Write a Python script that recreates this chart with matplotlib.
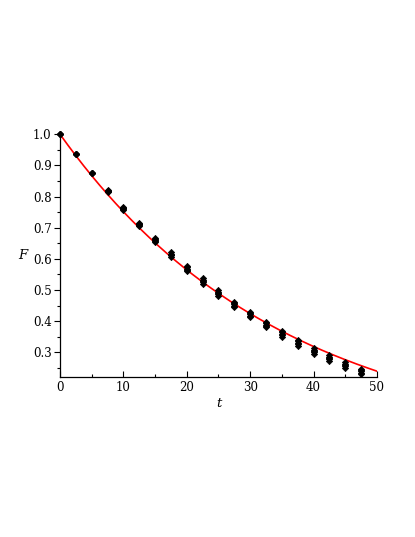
#!/usr/bin/env python3
"""Decay of F over t: measured replicates against the fitted exponential."""

import numpy as np
import matplotlib

matplotlib.use("Agg")
import matplotlib.pyplot as plt
from matplotlib.ticker import FormatStrFormatter, MultipleLocator

# sample times and the replicate readings at each time
t_data = [0, 2.5, 5, 7.5, 10, 12.5, 15, 17.5, 20, 22.5,
          25, 27.5, 30, 32.5, 35, 37.5, 40, 42.5, 45, 47.5]
F_high = [1.000, 0.938, 0.877, 0.820, 0.766, 0.716, 0.666, 0.621, 0.578, 0.538,
          0.500, 0.463, 0.431, 0.398, 0.369, 0.340, 0.313, 0.291, 0.268, 0.248]
F_upper = [1.000, 0.937, 0.877, 0.819, 0.764, 0.713, 0.663, 0.617, 0.573, 0.533,
           0.495, 0.458, 0.426, 0.393, 0.364, 0.335, 0.308, 0.286, 0.263, 0.243]
F_mid = [1.000, 0.937, 0.876, 0.818, 0.762, 0.711, 0.660, 0.614, 0.569, 0.529,
         0.491, 0.454, 0.422, 0.389, 0.360, 0.331, 0.304, 0.282, 0.259, 0.239]
F_lower = [1.000, 0.937, 0.875, 0.817, 0.760, 0.709, 0.657, 0.611, 0.565, 0.525,
           0.487, 0.450, 0.418, 0.385, 0.356, 0.327, 0.300, 0.278, 0.255, 0.235]
F_low = [1.000, 0.936, 0.875, 0.816, 0.758, 0.706, 0.654, 0.607, 0.560, 0.520,
         0.482, 0.445, 0.413, 0.380, 0.351, 0.322, 0.295, 0.273, 0.250, 0.230]

# fitted decay constant (F = exp(-t / tau))
tau = 35.0

plt.rcParams["font.family"] = ["DejaVu Serif"]
plt.rcParams["font.size"] = 8.5

fig = plt.figure(figsize=(4.15, 5.37), dpi=100)
ax = fig.add_axes([0.1446, 0.2985, 0.7638, 0.4515])

t_fit = np.linspace(0, 50, 400)
ax.plot(t_fit, np.exp(-t_fit / tau), color="#ff0000", linewidth=1.2, zorder=2)

for series in (F_low, F_lower, F_mid, F_upper, F_high):
    ax.plot(t_data, series, linestyle="none", marker="D", markersize=3.2,
            markeredgewidth=0.5, color="black", clip_on=False, zorder=3)

ax.set_xlim(0, 50)
ax.set_ylim(0.222, 1.0)

ax.xaxis.set_major_locator(MultipleLocator(10))
ax.xaxis.set_minor_locator(MultipleLocator(5))
ax.yaxis.set_major_locator(MultipleLocator(0.1))
ax.yaxis.set_minor_locator(MultipleLocator(0.05))
ax.yaxis.set_major_formatter(FormatStrFormatter("%.1f"))

ax.tick_params(axis="x", which="major", direction="in", length=4, width=0.8, pad=3)
ax.tick_params(axis="x", which="minor", direction="in", length=2.5, width=0.8)
ax.tick_params(axis="y", which="major", direction="out", length=4, width=0.8, pad=2)
ax.tick_params(axis="y", which="minor", direction="out", length=2.5, width=0.8)

for side in ("top", "right"):
    ax.spines[side].set_visible(False)
for side in ("left", "bottom"):
    ax.spines[side].set_linewidth(0.9)

ax.set_xlabel("t", style="italic", fontsize=9.5, labelpad=2)
ax.set_ylabel("F", style="italic", fontsize=9.5, rotation=0, labelpad=7, va="center")

fig.savefig("out.png", dpi=100)
plt.close(fig)
